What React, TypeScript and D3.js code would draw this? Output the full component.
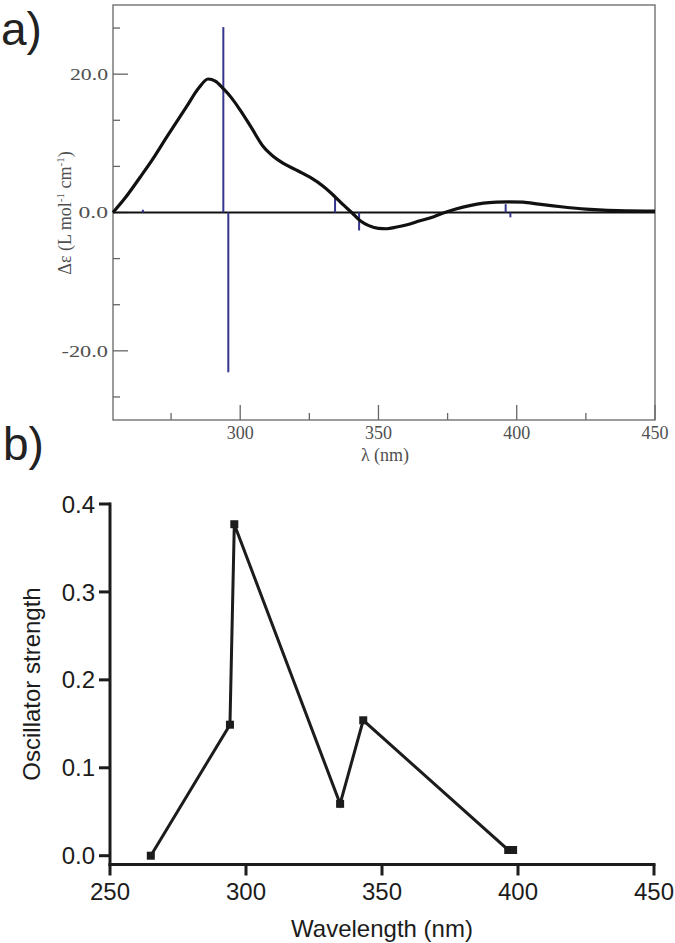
import React from "react";
import * as d3 from "d3";

// ---- Panel a) : ECD spectrum ----
const cdWavelength = [254, 258, 263.8, 268, 273.4, 280.6, 285, 288.4, 291, 293.9, 297, 300, 304, 308.4, 312, 315.6, 320, 325.2, 330, 333.7, 337, 340.3, 343.4, 346.5, 350, 353, 356.6, 360, 365, 370, 374, 378, 383, 388, 392.7, 397, 402.3, 408, 416.8, 425, 431.3, 440, 450];
const cdValues = [0, 1.9, 5.1, 7.5, 10.9, 15.3, 18.0, 19.3, 19.0, 17.9, 16.5, 14.8, 12.3, 9.5, 8.1, 7.1, 6.2, 5.1, 3.8, 2.5, 1.2, 0, -1.2, -1.9, -2.3, -2.35, -2.1, -1.8, -1.2, -0.6, 0, 0.5, 1.0, 1.35, 1.5, 1.55, 1.5, 1.2, 0.8, 0.5, 0.35, 0.25, 0.2];

const stickWavelength = [264.8, 293.9, 295.7, 334.3, 343.0, 396.0, 397.7];
const stickValues = [0.4, 26.8, -23.1, 2.3, -2.6, 1.2, -0.7];

const aXMajor = [300, 350, 400, 450];
const aXMinor = [275, 325, 375, 425];
const aYMajor = [-20, 0, 20];
const aYMajorLabels = ["-20.0", "0.0", "20.0"];
const aYMinor = [-26.667, -13.333, -6.667, 6.667, 13.333, 26.667];

// ---- Panel b) : oscillator strengths ----
const oscWavelength = [265, 294.1, 295.7, 334.6, 343.1, 396.4, 398.2];
const oscStrength = [0.0, 0.149, 0.377, 0.059, 0.154, 0.0065, 0.0065];

const bXTicks = [250, 300, 350, 400, 450];
const bYTicks = [0.0, 0.1, 0.2, 0.3, 0.4];

export default function App() {
  // scales panel a
  const ax = d3.scaleLinear().domain([254, 450]).range([113, 655]);
  const ay = d3.scaleLinear().domain([-30, 30]).range([420, 5]);
  // scales panel b
  const bx = d3.scaleLinear().domain([250, 450]).range([110, 654]);
  const by = d3.scaleLinear().domain([-0.01, 0.4]).range([864.5, 504]);

  const cdLine = d3
    .line<number>()
    .x((_, i) => ax(cdWavelength[i]))
    .y((d) => ay(d))
    .curve(d3.curveMonotoneX)(cdValues) as string;

  const oscLine = d3
    .line<number>()
    .x((_, i) => bx(oscWavelength[i]))
    .y((d) => by(d))(oscStrength) as string;

  const serif = "'Liberation Serif', 'Times New Roman', serif";
  const sans = "'Liberation Sans', Arial, sans-serif";
  const frameColor = "#666";
  const labelGray = "#505050";
  const blue = "#35358f";
  const ink = "#1c1c1c";

  const [x0, x1] = ax.range();
  const [yb, yt] = ay.range();

  return (
    <svg
      width={675}
      height={943}
      style={{ position: "absolute", left: 0, top: 0, background: "#fff" }}
    >
      {/* ======== Panel a ======== */}
      <text x={1} y={45} fontFamily={sans} fontSize={46} fill="#222">
        a)
      </text>

      {/* frame */}
      <rect x={x0} y={yt} width={x1 - x0} height={yb - yt} fill="none" stroke={frameColor} strokeWidth={1.3} />

      {/* y ticks (inward) */}
      {aYMajor.map((v) => (
        <line key={"aym" + v} x1={x0} x2={x0 + 15} y1={ay(v)} y2={ay(v)} stroke={frameColor} strokeWidth={1.3} />
      ))}
      {aYMinor.map((v) => (
        <line key={"ayn" + v} x1={x0} x2={x0 + 7} y1={ay(v)} y2={ay(v)} stroke={frameColor} strokeWidth={1.3} />
      ))}
      {aYMajor.map((v, i) => (
        <text
          key={"ayl" + v}
          x={108}
          y={ay(v)}
          dy="0.35em"
          textAnchor="end"
          fontFamily={serif}
          fontSize={17}
          fill={labelGray}
          textLength={aYMajorLabels[i].length * 8.5 + 4}
          lengthAdjust="spacingAndGlyphs"
        >
          {aYMajorLabels[i]}
        </text>
      ))}

      {/* x ticks (inward) */}
      {aXMajor.map((v) => (
        <line key={"axm" + v} x1={ax(v)} x2={ax(v)} y1={yb} y2={yb - 15} stroke={frameColor} strokeWidth={1.3} />
      ))}
      {aXMinor.map((v) => (
        <line key={"axn" + v} x1={ax(v)} x2={ax(v)} y1={yb} y2={yb - 7} stroke={frameColor} strokeWidth={1.3} />
      ))}
      {aXMajor.map((v) => (
        <text key={"axl" + v} x={ax(v)} y={439} textAnchor="middle" fontFamily={serif} fontSize={18} fill={labelGray}>
          {v}
        </text>
      ))}
      <text x={385} y={461} textAnchor="middle" fontFamily={serif} fontSize={18} fill={labelGray}>
        λ (nm)
      </text>

      {/* y label */}
      <text
        transform="translate(71,213) rotate(-90)"
        textAnchor="middle"
        fontFamily={serif}
        fontSize={18}
        fill={labelGray}
      >
        Δε (L mol
        <tspan dy={-7} fontSize={11}>-1</tspan>
        <tspan dy={7}> cm</tspan>
        <tspan dy={-7} fontSize={11}>-1</tspan>
        <tspan dy={7}>)</tspan>
      </text>

      {/* zero line */}
      <line x1={x0} x2={x1} y1={ay(0)} y2={ay(0)} stroke="#111" strokeWidth={2} />

      {/* sticks */}
      {stickValues.map((v, i) => (
        <line
          key={"st" + i}
          x1={ax(stickWavelength[i])}
          x2={ax(stickWavelength[i])}
          y1={ay(0)}
          y2={ay(v)}
          stroke={blue}
          strokeWidth={2}
        />
      ))}

      {/* CD curve */}
      <path d={cdLine} fill="none" stroke="#111" strokeWidth={3.2} strokeLinejoin="round" />

      {/* ======== Panel b ======== */}
      <text x={3} y={460} fontFamily={sans} fontSize={46} fill="#222">
        b)
      </text>

      {/* axes */}
      <line x1={bx(250)} x2={bx(250)} y1={by(0.4) - 1.5} y2={by(-0.01) + 1.5} stroke={ink} strokeWidth={3} />
      <line x1={bx(250) - 1.5} x2={bx(450) + 1.5} y1={by(-0.01)} y2={by(-0.01)} stroke={ink} strokeWidth={3} />

      {bYTicks.map((v) => (
        <g key={"byt" + v}>
          <line x1={bx(250) - 11} x2={bx(250)} y1={by(v)} y2={by(v)} stroke={ink} strokeWidth={3} />
          <text x={95} y={by(v)} dy="0.36em" textAnchor="end" fontFamily={sans} fontSize={24} fill={ink}>
            {v.toFixed(1)}
          </text>
        </g>
      ))}
      {bXTicks.map((v) => (
        <g key={"bxt" + v}>
          <line x1={bx(v)} x2={bx(v)} y1={by(-0.01)} y2={by(-0.01) + 11} stroke={ink} strokeWidth={3} />
          <text x={bx(v)} y={900} textAnchor="middle" fontFamily={sans} fontSize={24} fill={ink}>
            {v}
          </text>
        </g>
      ))}

      <text x={382} y={937} textAnchor="middle" fontFamily={sans} fontSize={24} fill={ink}>
        Wavelength (nm)
      </text>
      <text
        transform="translate(40,684) rotate(-90)"
        textAnchor="middle"
        fontFamily={sans}
        fontSize={24}
        fill={ink}
      >
        Oscillator strength
      </text>

      <path d={oscLine} fill="none" stroke={ink} strokeWidth={3} strokeLinejoin="miter" />
      {oscStrength.map((v, i) => (
        <rect
          key={"pt" + i}
          x={bx(oscWavelength[i]) - 4}
          y={by(v) - 4}
          width={8}
          height={8}
          fill={ink}
        />
      ))}
    </svg>
  );
}
